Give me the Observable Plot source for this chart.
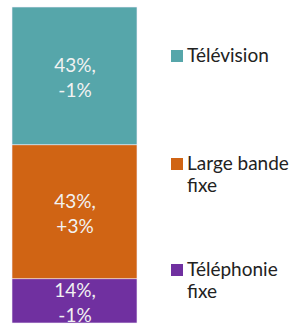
<!DOCTYPE html>
<html><head><meta charset="utf-8">
<script src="https://cdn.jsdelivr.net/npm/d3@7"></script>
<script src="https://cdn.jsdelivr.net/npm/@observablehq/plot@0.6"></script>
<style>
body{margin:0;background:#fff;}
#wrap{position:relative;width:298px;height:324px;font-family:Lato,"Open Sans",sans-serif;}
.leg{position:absolute;left:171px;font-size:19px;color:#222;line-height:22px;white-space:nowrap;}
.leg .sw{position:absolute;left:0;top:6px;width:12px;height:12px;}
.leg .tx{display:block;margin-left:16px;}
</style></head>
<body><div id="wrap"></div>
<script>
const categories = ["Téléphonie fixe", "Large bande fixe", "Télévision"];
const values = [14.0, 42.4, 43.6];
const labels = ["14%,\n-1%", "43%,\n+3%", "43%,\n-1%"];
const legendLabels = ["Télévision", "Large bande\nfixe", "Téléphonie\nfixe"];
const colors = ["#7030A0", "#D06414", "#56A6AA"];

const data = categories.map((c, i) => ({cat: c, value: values[i], label: labels[i], bar: "total"}));

const chart = Plot.plot({
  width: 298, height: 324,
  marginTop: 7, marginBottom: 1, marginLeft: 12, marginRight: 161,
  x: {domain: ["total"], padding: 0, axis: null},
  y: {domain: [0, 100], axis: null},
  color: {domain: categories, range: colors},
  style: {fontFamily: "Lato, 'Open Sans', sans-serif", background: "white"},
  marks: [
    Plot.barY(data, Plot.stackY({x: "bar", y: "value", z: "cat", fill: "cat", order: categories, stroke: "#f4eefa", strokeWidth: 0.6})),
    Plot.text(data, Plot.stackY({x: "bar", y: "value", z: "cat", text: "label", order: categories, fill: "#f2f2f2", fontSize: 19, lineHeight: 1.3, dy: 0}))
  ]
});
const wrap = document.getElementById("wrap");
wrap.appendChild(chart);
const tops = [44, 152, 258];
const legendColors = ["#56A6AA", "#D06414", "#7030A0"];
legendLabels.forEach((t, i) => {
  const d = document.createElement("div");
  d.className = "leg";
  d.style.top = tops[i] + "px";
  const sw = document.createElement("span"); sw.className = "sw"; sw.style.background = legendColors[i];
  const tx = document.createElement("span"); tx.className = "tx"; tx.innerHTML = t.replace("\n", "<br>");
  d.appendChild(sw); d.appendChild(tx);
  wrap.appendChild(d);
});
</script></body></html>
